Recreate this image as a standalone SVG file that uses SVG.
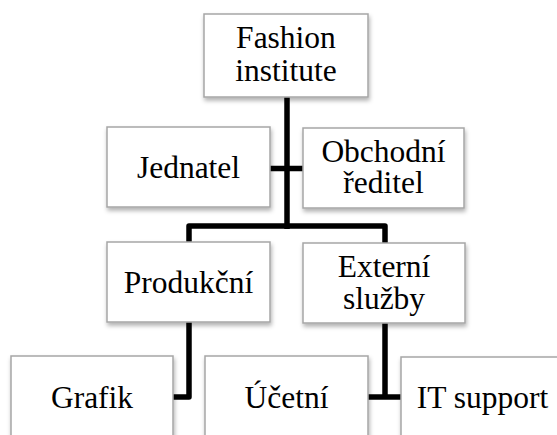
<svg xmlns="http://www.w3.org/2000/svg" width="557" height="435" viewBox="0 0 557 435">
<defs>
<filter id="sh" x="-10%" y="-10%" width="125%" height="130%">
<feDropShadow dx="1" dy="3" stdDeviation="2" flood-color="#000" flood-opacity="0.3"/>
</filter>
</defs>
<style>
.box{fill:#fff;stroke:#a6a6a6;stroke-width:1.5;filter:url(#sh)}
.t{font-family:'Liberation Serif','Times New Roman',serif;font-size:31.5px;fill:#000;text-anchor:middle}
.c{fill:none;stroke:#000;stroke-width:5.5;stroke-linejoin:round}
</style>
<rect width="557" height="435" fill="#fff"/>
<g id="connectors">
<path class="c" d="M287 97 V229"/>
<path class="c" d="M270 168.5 H303"/>
<path class="c" d="M189 242 V226 H385 V243"/>
<path class="c" d="M189 322 V397 H173"/>
<path class="c" d="M385 323 V397"/>
<path class="c" d="M368 397 H401"/>
</g>
<g id="n1"><rect class="box" x="204" y="14" width="164" height="83"/><text class="t" x="286" y="48">Fashion</text><text class="t" x="286" y="81">institute</text></g>
<g id="n2"><rect class="box" x="107" y="127" width="163" height="80"/><text class="t" x="188.5" y="178">Jednatel</text></g>
<g id="n3"><rect class="box" x="303" y="128" width="161" height="80"/><text class="t" x="383.5" y="162">Obchodní</text><text class="t" x="383.5" y="193">ředitel</text></g>
<g id="n4"><rect class="box" x="107" y="242" width="163" height="80"/><text class="t" x="188.5" y="293">Produkční</text></g>
<g id="n5"><rect class="box" x="303" y="243" width="162" height="80"/><text class="t" x="384" y="277">Externí</text><text class="t" x="384" y="309">služby</text></g>
<g id="n6"><rect class="box" x="11" y="356" width="162" height="85"/><text class="t" x="92" y="408">Grafik</text></g>
<g id="n7"><rect class="box" x="205" y="356" width="163" height="85"/><text class="t" x="286.5" y="408">Účetní</text></g>
<g id="n8"><rect class="box" x="401" y="357" width="163" height="85"/><text class="t" x="482.5" y="408">IT support</text></g>
</svg>
